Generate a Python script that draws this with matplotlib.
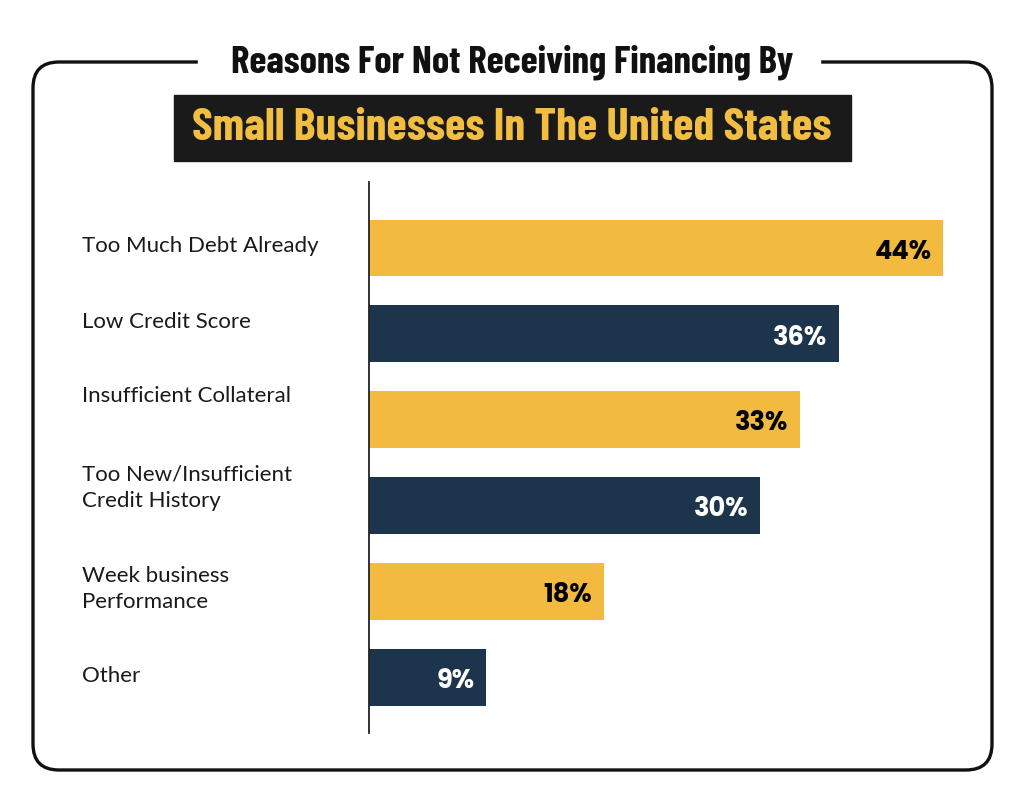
import matplotlib
matplotlib.use("Agg")
import matplotlib.pyplot as plt
from matplotlib.patches import FancyBboxPatch, Rectangle
from matplotlib.transforms import blended_transform_factory

categories = ["Too Much Debt Already", "Low Credit Score", "Insufficient Collateral",
              "Too New/Insufficient\nCredit History", "Week business\nPerformance", "Other"]
values = [44, 36, 33, 30, 18, 9]

title1 = "Reasons For Not Receiving Financing By"
title2 = "Small Businesses In The United States"

yellow = "#F2BA3E"
navy = "#1C344C"
bar_colors = [yellow, navy, yellow, navy, yellow, navy]
text_colors = ["black", "white", "black", "white", "black", "white"]

# where the category labels sit (in bar-index units)
label_pos = [-0.02, 0.86, 1.73, 2.79, 3.97, 4.99]

title_font = ["Barlow Condensed", "Oswald", "DejaVu Sans"]
label_font = ["Lato", "DejaVu Sans"]
value_font = ["Poppins", "Lato", "DejaVu Sans"]

fig = plt.figure(figsize=(10.24, 7.98), dpi=100)

# background layer in pixel coordinates
bg = fig.add_axes([0, 0, 1, 1])
bg.set_xlim(0, 1024)
bg.set_ylim(798, 0)
bg.axis("off")

border = FancyBboxPatch((33, 62), 959, 708, boxstyle="round,pad=0,rounding_size=26",
                        fill=False, ec="#111111", lw=2.4)
bg.add_patch(border)
bg.add_patch(Rectangle((198, 55), 622, 14, color="white", zorder=3))
bg.text(512, 62, title1, ha="center", va="center", fontsize=28, fontweight="bold",
        family=title_font, color="#111111", zorder=4)
bg.add_patch(Rectangle((174, 95), 677, 66, color="#1A1A1A", zorder=3))
bg.text(512, 128, title2, ha="center", va="center", fontsize=33.5, fontweight="bold",
        family=title_font, color="#F2BE42", zorder=4)

# bar chart
ax = fig.add_axes([369 / 1024, 65 / 798, 574 / 1024, 551 / 798])
ypos = list(range(len(values)))
ax.barh(ypos, values, height=0.66, color=bar_colors)
ax.set_xlim(0, 44)
ax.set_ylim(5.65, -0.767)
for s in ["top", "right", "bottom"]:
    ax.spines[s].set_visible(False)
ax.spines["left"].set_linewidth(1.3)
ax.spines["left"].set_color("#222222")
ax.set_xticks([])
ax.set_yticks([])
ax.patch.set_alpha(0)

for y, v, c in zip(ypos, values, text_colors):
    ax.text(v - 0.9, y + 0.05, f"{v}%", ha="right", va="center", fontsize=18.5,
            fontweight="bold", family=value_font, color=c)

tr = blended_transform_factory(bg.transData, ax.transData)
for lab, y in zip(categories, label_pos):
    ax.text(82, y, lab, transform=tr, ha="left", va="center", fontsize=16,
            family=label_font, color="#1a1a1a", linespacing=1.4, clip_on=False)

fig.savefig("out.png", dpi=100, facecolor="white")
